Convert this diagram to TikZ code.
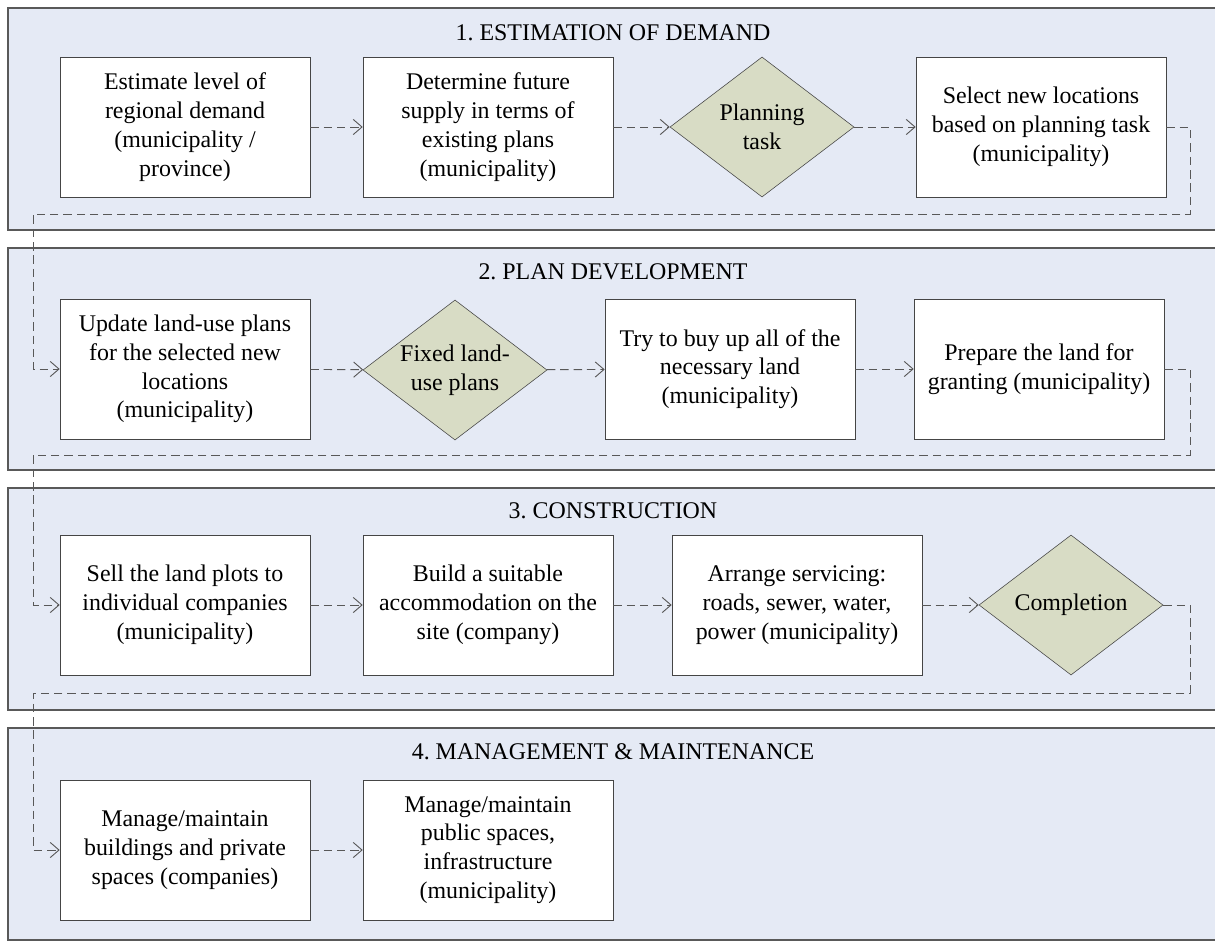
\documentclass[tikz,border=0pt]{standalone}
\usepackage{fontspec}
\setmainfont{Liberation Serif}
\usepackage{tikz}
\usetikzlibrary{shapes.geometric,arrows.meta}
\definecolor{panelblue}{HTML}{E5EAF5}
\definecolor{taskolive}{HTML}{D8DCC5}
\definecolor{linegray}{HTML}{454545}
\frenchspacing

\begin{document}
\begin{tikzpicture}[x=0.025cm, y=-0.025cm, font=\fontsize{17}{20.5}\selectfont,
    panel/.style={draw=gray!70!black, fill=panelblue, line width=0.9pt},
    task/.style={rectangle, draw=linegray, fill=white, minimum width=6.25cm, minimum height=3.5cm, align=center, inner sep=0pt},
    decision/.style={diamond, draw=linegray, fill=taskolive, minimum width=4.6cm, minimum height=3.5cm, align=center, inner sep=0pt, aspect=1.3},
    flow/.style={draw=linegray!90, line width=0.65pt, dash pattern=on 6pt off 3.5pt, -{Straight Barb[length=2.2mm,width=3.8mm]}}]
        \useasboundingbox (0,0) rectangle (1215,947);
        % the four phases
        \draw[panel] (8,8) rectangle (1230,230);
        \draw[panel] (8,248) rectangle (1230,470);
        \draw[panel] (8,488) rectangle (1230,710);
        \draw[panel] (8,728) rectangle (1230,940);
        \node (t1) at (613,33) {1. ESTIMATION OF DEMAND};
        \node (t2) at (613,272) {2. PLAN DEVELOPMENT};
        \node (t3) at (613,511) {3. CONSTRUCTION};
        \node (t4) at (613,752) {4. MANAGEMENT \& MAINTENANCE};

        % phase 1
        \node[task] (a1) at (185,127) {Estimate level of\\regional demand\\(municipality /\\province)};
        \node[task] (a2) at (488,127) {Determine future\\supply in terms of\\existing plans\\(municipality)};
        \node[decision] (a3) at (762,127) {Planning\\task};
        \node[task] (a4) at (1041,127) {Select new locations\\based on planning task\\(municipality)};

        % phase 2
        \node[task] (b1) at (185,369) {Update land-use plans\\for the selected new\\locations\\(municipality)};
        \node[decision] (b2) at (455,370) {Fixed land-\\use plans};
        \node[task] (b3) at (730,369) {Try to buy up all of the\\necessary land\\(municipality)};
        \node[task] (b4) at (1039,369) {Prepare the land for\\granting (municipality)};

        % phase 3
        \node[task] (c1) at (185,605) {Sell the land plots to\\individual companies\\(municipality)};
        \node[task] (c2) at (488,605) {Build a suitable\\accommodation on the\\site (company)};
        \node[task] (c3) at (797,605) {Arrange servicing:\\roads, sewer, water,\\power (municipality)};
        \node[decision] (c4) at (1071,605) {Completion};

        % phase 4
        \node[task] (d1) at (185,850) {Manage/maintain\\buildings and private\\spaces (companies)};
        \node[task] (d2) at (488,850) {Manage/maintain\\public spaces,\\infrastructure\\(municipality)};

        % turns between the phases
        \coordinate (r1) at (1190,214);
        \coordinate (l1) at (33,214);
        \coordinate (r2) at (1190,455);
        \coordinate (l2) at (33,455);
        \coordinate (r3) at (1190,693);
        \coordinate (l3) at (33,693);

        \draw[flow] (a1) -- (a2);
        \draw[flow] (a2) -- (a3);
        \draw[flow] (a3) -- (a4);
        \draw[flow] (a4.east) -| (r1) -- (l1) |- (b1.west);
        \draw[flow] (b1) -- (b2);
        \draw[flow] (b2) -- (b3);
        \draw[flow] (b3) -- (b4);
        \draw[flow] (b4.east) -| (r2) -- (l2) |- (c1.west);
        \draw[flow] (c1) -- (c2);
        \draw[flow] (c2) -- (c3);
        \draw[flow] (c3) -- (c4);
        \draw[flow] (c4.east) -| (r3) -- (l3) |- (d1.west);
        \draw[flow] (d1) -- (d2);
    \end{tikzpicture}
\end{document}
